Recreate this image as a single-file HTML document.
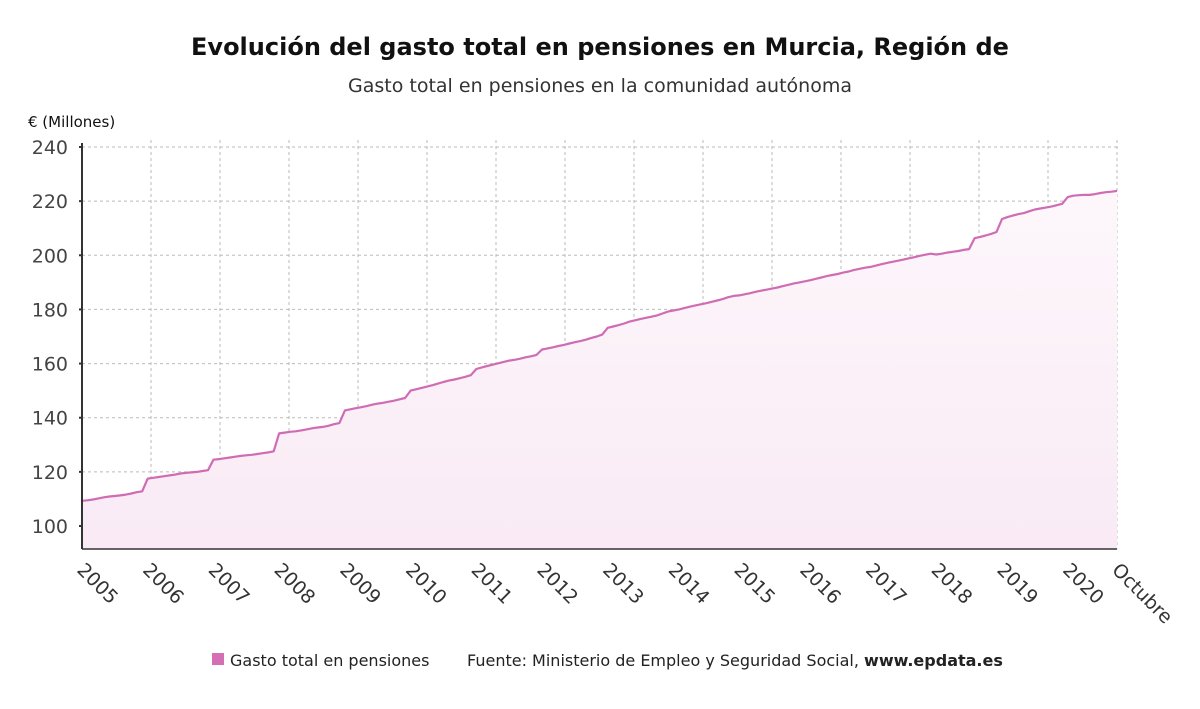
<!DOCTYPE html>
<html><head><meta charset="utf-8"><style>
body{margin:0;background:#fff;width:1200px;height:705px;overflow:hidden;font-family:"DejaVu Sans","Liberation Sans",sans-serif;}
svg text{font-family:"DejaVu Sans","Liberation Sans",sans-serif;}
</style></head><body>
<svg id="chart" width="1200" height="705" xmlns="http://www.w3.org/2000/svg">
<defs><linearGradient id="fillg" x1="0" y1="0" x2="0" y2="1"><stop offset="0" stop-color="#fdf7fb"/><stop offset="1" stop-color="#f9eaf5"/></linearGradient></defs>
<text x="600" y="55" text-anchor="middle" font-size="24" font-weight="bold" fill="#111">Evolución del gasto total en pensiones en Murcia, Región de</text>
<text x="600" y="92" text-anchor="middle" font-size="19" fill="#333">Gasto total en pensiones en la comunidad autónoma</text>
<text x="28" y="127" font-size="15" fill="#111">€ (Millones)</text>
<g id="grid"></g><g id="marks"></g><g id="axes"></g>
<g>
<rect x="212" y="653" width="12" height="12" fill="#d46fb6"/>
<text x="230" y="666" font-size="16" fill="#222">Gasto total en pensiones</text>
<text x="467" y="666" font-size="16" fill="#222">Fuente: Ministerio de Empleo y Seguridad Social, <tspan font-weight="bold">www.epdata.es</tspan></text>
</g>
</svg>
<script>
const yearLabels=["2005","2006","2007","2008","2009","2010","2011","2012","2013","2014","2015","2016","2017","2018","2019","2020","Octubre"];
const yTicks=[100,120,140,160,180,200,220,240];
const v2005=[109.3,109.5,109.8,110.2,110.6,110.9,111.1,111.3,111.6,112.0,112.5,112.8];
const v2006=[117.5,117.8,118.1,118.4,118.7,119.0,119.4,119.6,119.8,120.0,120.3,120.6];
const v2007=[124.5,124.7,125.0,125.3,125.6,125.9,126.1,126.3,126.6,126.9,127.2,127.6];
const v2008=[134.2,134.5,134.8,135.0,135.3,135.7,136.1,136.4,136.6,137.0,137.6,138.0];
const v2009=[142.7,143.1,143.5,143.9,144.3,144.8,145.2,145.5,145.9,146.3,146.8,147.3];
const v2010=[150.0,150.5,151.0,151.5,152.0,152.6,153.2,153.7,154.1,154.6,155.1,155.7];
const v2011=[158.0,158.6,159.1,159.6,160.1,160.6,161.1,161.4,161.8,162.3,162.7,163.2];
const v2012=[165.2,165.6,166.0,166.5,166.9,167.4,167.9,168.3,168.8,169.5,170.0,170.7];
const v2013=[173.2,173.7,174.2,174.8,175.5,176.0,176.5,176.9,177.3,177.8,178.5,179.2];
const v2014=[179.6,180.0,180.5,181.0,181.5,181.9,182.3,182.8,183.3,183.8,184.5,185.0];
const v2015=[185.2,185.6,186.0,186.5,186.9,187.3,187.7,188.1,188.6,189.1,189.6,190.0];
const v2016=[190.4,190.8,191.3,191.8,192.3,192.7,193.1,193.6,194.0,194.6,195.0,195.4];
const v2017=[195.7,196.2,196.7,197.2,197.6,198.0,198.4,198.9,199.3,199.8,200.2,200.6];
const v2018=[200.3,200.6,201.0,201.3,201.6,202.0,202.3,206.3,206.8,207.3,207.9,208.6];
const v2019=[213.4,214.1,214.7,215.2,215.6,216.3,216.9,217.3,217.6,218.0,218.5,219.0];
const v2020=[221.5,222.0,222.2,222.3,222.3,222.6,223.0,223.3,223.5,223.8];
const values=[].concat(v2005,v2006,v2007,v2008,v2009,v2010,v2011,v2012,v2013,v2014,v2015,v2016,v2017,v2018,v2019,v2020);

const X0=82,X1=1117,YB=549;
const nM=values.length-1;
const xS=i=>X0+(X1-X0)*i/nM;
const yS=v=>526-(v-100)*(379/140);
const NS="http://www.w3.org/2000/svg";
function mk(tag,attrs,parent){const e=document.createElementNS(NS,tag);for(const k in attrs)e.setAttribute(k,attrs[k]);parent.appendChild(e);return e;}
const grid=document.getElementById('grid'),marks=document.getElementById('marks'),axes=document.getElementById('axes');
yTicks.forEach(t=>{
  const g=mk('line',{x1:X0,x2:X1,y1:yS(t),y2:yS(t),stroke:'#bbb','stroke-dasharray':'3,3','stroke-width':1},grid);
  
  
  const tx=mk('text',{x:68,y:yS(t)+7,'text-anchor':'end','font-size':19,fill:'#444'},axes);
  tx.textContent=t;
  
  
  mk('line',{x1:X0-3,x2:X0,y1:yS(t),y2:yS(t),stroke:'#333','stroke-width':2},axes);
});
for(let k=1;k<=15;k++){
  const x=X0+(X1-X0)*k/15;
  const g=mk('line',{x1:x,x2:x,y1:140,y2:YB,stroke:'#bbb','stroke-dasharray':'3,3','stroke-width':1},grid);
  
  
}
let pts=values.map((v,i)=>xS(i).toFixed(1)+','+yS(v).toFixed(1));
const area=mk('polygon',{points:X0+','+YB+' '+pts.join(' ')+' '+X1+','+YB,fill:'url(#fillg)'},marks);


const line=mk('polyline',{points:pts.join(' '),fill:'none',stroke:'#d06cb3','stroke-width':2.2,'stroke-linejoin':'round'},marks);


const ya=mk('line',{x1:X0,x2:X0,y1:143,y2:YB,stroke:'#333','stroke-width':2},axes);


const xa=mk('line',{x1:X0,x2:X1,y1:YB,y2:YB,stroke:'#333','stroke-width':1.5},axes);


yearLabels.forEach((lab,i)=>{
  const m=i<16?i*12:nM;
  const x=xS(m);
  const tx=mk('text',{x:x-6,y:YB+22,'font-size':19,fill:'#333',transform:'rotate(45 '+(x-6)+' '+(YB+22)+')'},axes);
  tx.textContent=lab;
  
  
});
</script>
</body></html>
